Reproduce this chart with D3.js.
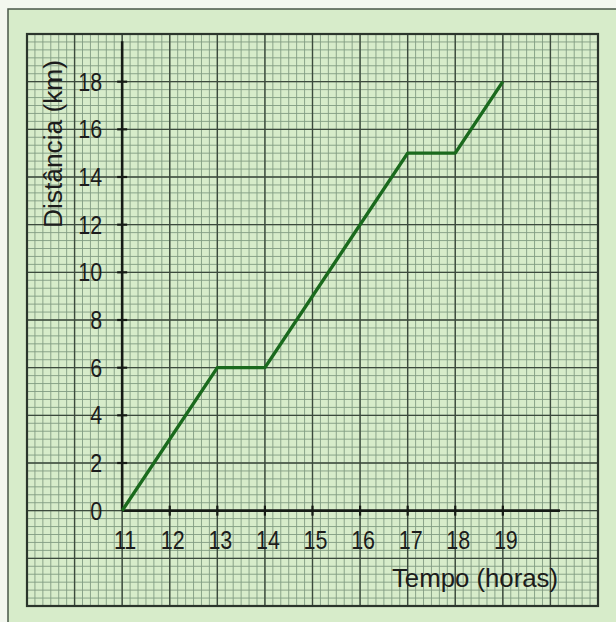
<!DOCTYPE html>
<html>
<head>
<meta charset="utf-8">
<script src="https://cdn.jsdelivr.net/npm/d3@7"></script>
<style>
  html, body { margin: 0; padding: 0; background: #f3f7ef; }
  svg { display: block; }
  text { font-family: "Liberation Sans", Arial, sans-serif; fill: #1c1c1c; }
</style>
</head>
<body>
<div id="chart"></div>
<script>
// data
const hours = [11, 13, 14, 17, 18, 19];
const distance = [0, 6, 6, 15, 15, 18];
const xTicks = [11, 12, 13, 14, 15, 16, 17, 18, 19];
const yTicks = [0, 2, 4, 6, 8, 10, 12, 14, 16, 18];
const xTitle = "Tempo (horas)";
const yTitle = "Distância (km)";

const W = 616, H = 622;

const svg = d3.select("#chart")
  .append("svg")
  .attr("width", W)
  .attr("height", H);

// paper + outer frame
svg.append("rect")
  .attr("x", 8).attr("y", 9)
  .attr("width", W).attr("height", H)
  .attr("fill", "#d7ecca")
  .attr("stroke", "#4a574a")
  .attr("stroke-width", 1.5);

// graph paper spans 9h..21h and -4..20 km
const x = d3.scaleLinear().domain([9, 21]).range([27, 598]);
const y = d3.scaleLinear().domain([-4, 20]).range([606, 34]);

const grid = svg.append("g");

// minor lines, 6 per major cell
const minorX = d3.range(0, 12 * 6 + 1).map((i) => 9 + i / 6);
const minorY = d3.range(0, 12 * 6 + 1).map((i) => -4 + i / 3);

grid.selectAll(".mx")
  .data(minorX)
  .enter().append("line")
  .attr("x1", (d) => x(d)).attr("x2", (d) => x(d))
  .attr("y1", y(-4)).attr("y2", y(20))
  .attr("stroke", "#819c82")
  .attr("stroke-width", 0.9);

grid.selectAll(".my")
  .data(minorY)
  .enter().append("line")
  .attr("y1", (d) => y(d)).attr("y2", (d) => y(d))
  .attr("x1", x(9)).attr("x2", x(21))
  .attr("stroke", "#819c82")
  .attr("stroke-width", 0.9);

// major lines
grid.selectAll(".Mx")
  .data(d3.range(9, 22))
  .enter().append("line")
  .attr("x1", (d) => x(d)).attr("x2", (d) => x(d))
  .attr("y1", y(-4)).attr("y2", y(20))
  .attr("stroke", "#3c4a3d")
  .attr("stroke-width", 1.4);

grid.selectAll(".My")
  .data(d3.range(-4, 21, 2))
  .enter().append("line")
  .attr("y1", (d) => y(d)).attr("y2", (d) => y(d))
  .attr("x1", x(9)).attr("x2", x(21))
  .attr("stroke", "#3c4a3d")
  .attr("stroke-width", 1.4);

grid.append("rect")
  .attr("x", x(9)).attr("y", y(20))
  .attr("width", x(21) - x(9)).attr("height", y(-4) - y(20))
  .attr("fill", "none")
  .attr("stroke", "#2b352c")
  .attr("stroke-width", 2.2);

// axes
const axes = svg.append("g");

axes.append("line")
  .attr("x1", x(11)).attr("x2", x(20.2))
  .attr("y1", y(0)).attr("y2", y(0))
  .attr("stroke", "#151a15").attr("stroke-width", 2.6);

axes.append("line")
  .attr("x1", x(11)).attr("x2", x(11))
  .attr("y1", y(0)).attr("y2", y(19.7))
  .attr("stroke", "#151a15").attr("stroke-width", 2.6);

axes.selectAll(".xt")
  .data(xTicks.slice(1))
  .enter().append("line")
  .attr("x1", (d) => x(d)).attr("x2", (d) => x(d))
  .attr("y1", y(0) - 5).attr("y2", y(0) + 5)
  .attr("stroke", "#151a15").attr("stroke-width", 2.2);

axes.selectAll(".yt")
  .data(yTicks.slice(1))
  .enter().append("line")
  .attr("x1", x(11) - 5).attr("x2", x(11) + 5)
  .attr("y1", (d) => y(d)).attr("y2", (d) => y(d))
  .attr("stroke", "#151a15").attr("stroke-width", 2.2);

// tick labels, squeezed a little to look condensed
svg.selectAll(".xl")
  .data(xTicks)
  .enter().append("text")
  .attr("transform", (d) => `translate(${x(d) + 3},${y(0) + 38}) scale(0.86,1)`)
  .attr("text-anchor", "middle")
  .attr("font-size", 25)
  .text((d) => d);

svg.selectAll(".yl")
  .data(yTicks)
  .enter().append("text")
  .attr("transform", (d) => `translate(${x(11) - 20},${y(d) + 9}) scale(0.86,1)`)
  .attr("text-anchor", "end")
  .attr("font-size", 25)
  .text((d) => d);

// titles
svg.append("text")
  .attr("x", 392)
  .attr("y", 587)
  .attr("font-size", 25)
  .attr("textLength", 166)
  .attr("lengthAdjust", "spacingAndGlyphs")
  .text(xTitle);

svg.append("text")
  .attr("transform", "translate(62,228) rotate(-90)")
  .attr("font-size", 25)
  .attr("textLength", 168)
  .attr("lengthAdjust", "spacingAndGlyphs")
  .text(yTitle);

// distance line
const line = d3.line()
  .x((d, i) => x(hours[i]))
  .y((d) => y(d));

svg.append("path")
  .datum(distance)
  .attr("fill", "none")
  .attr("stroke", "#1a6a1d")
  .attr("stroke-width", 3.4)
  .attr("stroke-linejoin", "round")
  .attr("d", line);
</script>
</body>
</html>
